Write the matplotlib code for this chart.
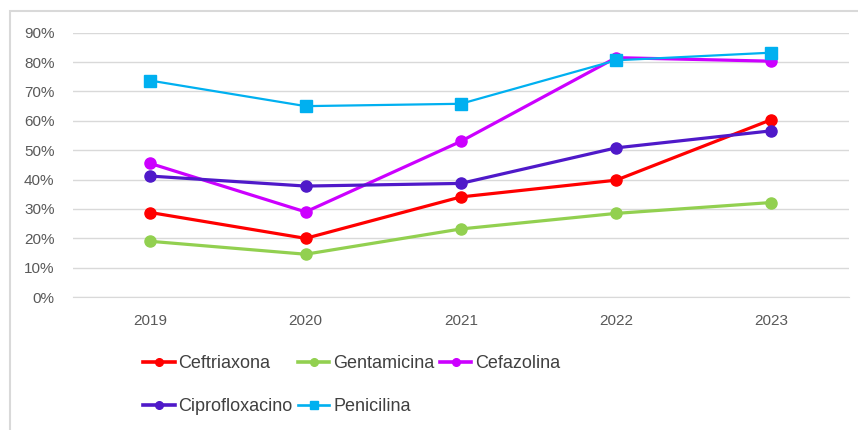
import matplotlib.pyplot as plt
from matplotlib.lines import Line2D
from matplotlib.patches import Rectangle
from matplotlib.ticker import PercentFormatter

years = ["2019", "2020", "2021", "2022", "2023"]
ceftriaxona = [28.8, 20.0, 34.1, 39.8, 60.4]
gentamicina = [19.0, 14.6, 23.2, 28.5, 32.2]
cefazolina = [45.5, 29.0, 53.0, 81.5, 80.3]
ciprofloxacino = [41.2, 37.8, 38.7, 50.8, 56.6]
penicilina = [73.7, 65.0, 65.8, 80.6, 83.2]

plt.rcParams['font.family'] = ['Liberation Sans', 'DejaVu Sans']

fig = plt.figure(figsize=(8.58, 4.30), dpi=100)
ax = fig.add_axes([0.0847, 0.309, 0.9048, 0.615])

# outer chart border
fig.patches.append(Rectangle((10 / 858, -0.05), 1.0, 1 - 11 / 430 + 0.05,
                             transform=fig.transFigure, fill=False,
                             edgecolor='#d9d9d9', linewidth=1.5))

x = range(len(years))
series = [
    ("Ceftriaxona", ceftriaxona, '#ff0000', 'o', 2.3),
    ("Gentamicina", gentamicina, '#92d050', 'o', 2.3),
    ("Cefazolina", cefazolina, '#cc00ff', 'o', 2.3),
    ("Ciprofloxacino", ciprofloxacino, '#4f19c9', 'o', 2.3),
    ("Penicilina", penicilina, '#00b0f0', 's', 1.6),
]
handles = {}
for name, vals, col, mk, lw in series:
    ax.plot(x, vals, color=col, marker=mk, markersize=8, linewidth=lw,
            solid_capstyle='round', zorder=3, clip_on=False)
    handles[name] = Line2D([], [], color=col, marker=mk, markersize=5.5,
                           linewidth=lw + 0.3)

ax.set_xlim(-0.5, 4.5)
ax.set_ylim(0, 90)
ax.set_yticks(range(0, 91, 10))
ax.yaxis.set_major_formatter(PercentFormatter(decimals=0))
ax.set_xticks(list(x))
ax.set_xticklabels(years)
ax.grid(axis='y', color='#d9d9d9', linewidth=1)
ax.set_axisbelow(True)
for s in ax.spines.values():
    s.set_visible(False)
ax.spines['bottom'].set_visible(True)
ax.spines['bottom'].set_color('#d9d9d9')
ax.tick_params(length=0, labelsize=11, labelcolor='#595959')
ax.tick_params(axis='x', pad=12)
ax.tick_params(axis='y', pad=13)

order = ["Ceftriaxona", "Ciprofloxacino", "Gentamicina", "Penicilina", "Cefazolina"]
fig.legend([handles[n] for n in order], order, ncol=3, frameon=False,
           loc='upper left', bbox_to_anchor=(143 / 858, 1 - 355 / 430),
           fontsize=13, labelcolor='#404040', handlelength=1.75,
           handletextpad=0.2, columnspacing=0.3, labelspacing=1.45,
           borderaxespad=0, borderpad=0)

fig.savefig("out.png", dpi=100)
